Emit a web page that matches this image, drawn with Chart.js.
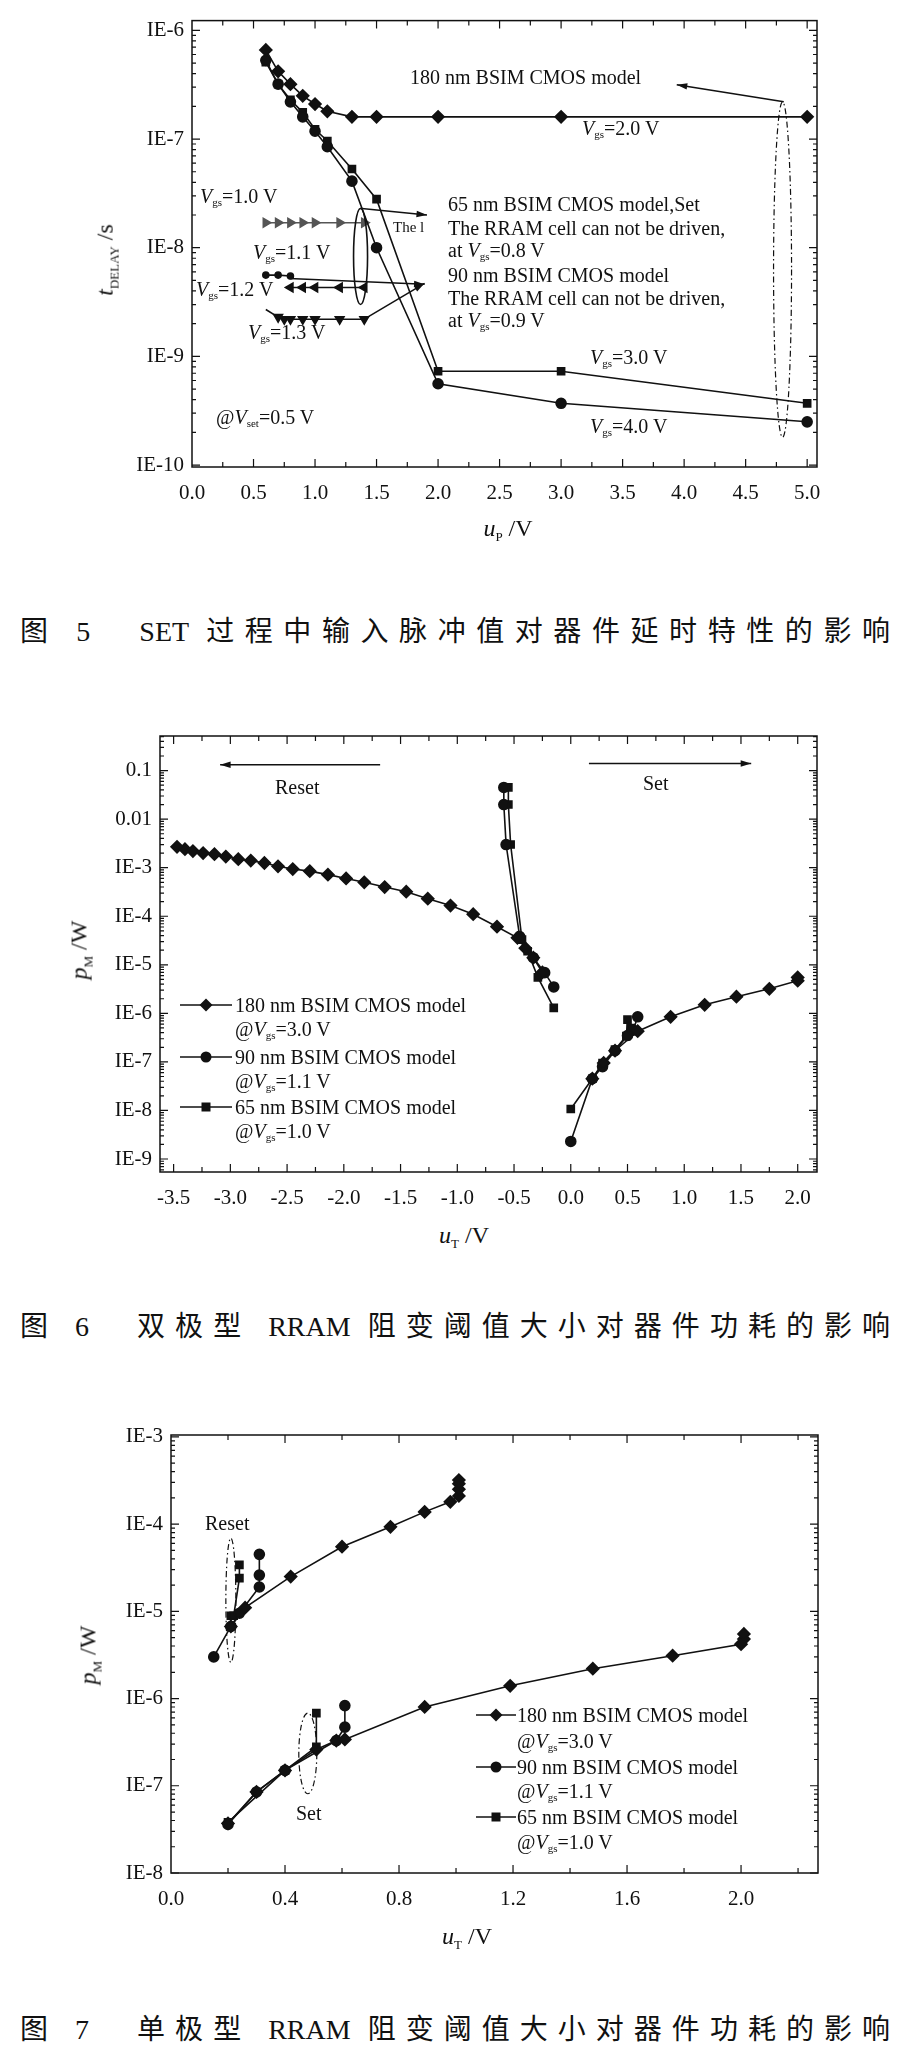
<!DOCTYPE html>
<html>
<head>
<meta charset="utf-8">
<script src="https://cdn.jsdelivr.net/npm/chart.js@4/dist/chart.umd.min.js"></script>
<style>
  body { margin: 0; background: #fff; width: 905px; height: 2062px; position: relative; overflow: hidden;
         font-family: "Liberation Serif", "DejaVu Serif", serif; color: #111; }
  canvas { position: absolute; left: 0; }
  .t { position: absolute; white-space: nowrap; font-size: 20px; line-height: 1; transform: translateY(-50%); }
  .t i { font-style: italic; }
  .t sub { font-size: 11px; vertical-align: -3px; }
  .cap { position: absolute; left: 20px; width: 870px; font-size: 28px; line-height: 1;
         font-family: "Liberation Serif", "Noto Sans CJK SC", serif; text-align: justify; text-align-last: justify;
         transform: translateY(-50%); }
  .ytitle { position: absolute; font-size: 24px; white-space: nowrap; transform: translate(-50%, -50%) rotate(-90deg); }
  .xtitle { position: absolute; font-size: 24px; white-space: nowrap; transform: translate(-50%, -50%); }
  .ytitle sub, .xtitle sub { font-size: 13px; }
</style>
</head>
<body>
<canvas id="fig5" width="905" height="540" style="top:0"></canvas>
<canvas id="fig6" width="905" height="520" style="top:700px"></canvas>
<canvas id="fig7" width="905" height="540" style="top:1400px"></canvas>

<!-- figure 5 texts -->
<div class="ytitle" style="left:107px;top:260px"><i>t</i><sub>DELAY</sub> /s</div>
<div class="xtitle" style="left:508px;top:530px"><i>u</i><sub>P</sub> /V</div>
<div class="t" style="left:410px;top:77px">180 nm BSIM CMOS model</div>
<div class="t" style="left:582px;top:129px"><i>V</i><sub>gs</sub>=2.0 V</div>
<div class="t" style="left:200px;top:197px"><i>V</i><sub>gs</sub>=1.0 V</div>
<div class="t" style="left:253px;top:253px"><i>V</i><sub>gs</sub>=1.1 V</div>
<div class="t" style="left:196px;top:290px"><i>V</i><sub>gs</sub>=1.2 V</div>
<div class="t" style="left:248px;top:333px"><i>V</i><sub>gs</sub>=1.3 V</div>
<div class="t" style="left:393px;top:227px;font-size:15px">The l</div>
<div class="t" style="left:448px;top:204px">65 nm BSIM CMOS model,Set</div>
<div class="t" style="left:448px;top:228px">The RRAM cell can not be driven,</div>
<div class="t" style="left:448px;top:251px">at <i>V</i><sub>gs</sub>=0.8 V</div>
<div class="t" style="left:448px;top:275px">90 nm BSIM CMOS model</div>
<div class="t" style="left:448px;top:298px">The RRAM cell can not be driven,</div>
<div class="t" style="left:448px;top:321px">at <i>V</i><sub>gs</sub>=0.9 V</div>
<div class="t" style="left:590px;top:358px"><i>V</i><sub>gs</sub>=3.0 V</div>
<div class="t" style="left:590px;top:427px"><i>V</i><sub>gs</sub>=4.0 V</div>
<div class="t" style="left:216px;top:418px">@<i>V</i><sub>set</sub>=0.5 V</div>
<div class="cap" style="top:632px">图 5　SET 过程中输入脉冲值对器件延时特性的影响</div>

<!-- figure 6 texts -->
<div class="ytitle" style="left:81px;top:950px"><i>p</i><sub>M</sub> /W</div>
<div class="xtitle" style="left:464px;top:1237px"><i>u</i><sub>T</sub> /V</div>
<div class="t" style="left:275px;top:787px">Reset</div>
<div class="t" style="left:643px;top:783px">Set</div>
<div class="t" style="left:235px;top:1005px">180 nm BSIM CMOS model</div>
<div class="t" style="left:235px;top:1030px">@<i>V</i><sub>gs</sub>=3.0 V</div>
<div class="t" style="left:235px;top:1057px">90 nm BSIM CMOS model</div>
<div class="t" style="left:235px;top:1082px">@<i>V</i><sub>gs</sub>=1.1 V</div>
<div class="t" style="left:235px;top:1107px">65 nm BSIM CMOS model</div>
<div class="t" style="left:235px;top:1132px">@<i>V</i><sub>gs</sub>=1.0 V</div>
<div class="cap" style="top:1327px">图 6　双极型 RRAM 阻变阈值大小对器件功耗的影响</div>

<!-- figure 7 texts -->
<div class="ytitle" style="left:90px;top:1655px"><i>p</i><sub>M</sub> /W</div>
<div class="xtitle" style="left:467px;top:1938px"><i>u</i><sub>T</sub> /V</div>
<div class="t" style="left:205px;top:1523px">Reset</div>
<div class="t" style="left:296px;top:1813px">Set</div>
<div class="t" style="left:517px;top:1715px">180 nm BSIM CMOS model</div>
<div class="t" style="left:517px;top:1742px">@<i>V</i><sub>gs</sub>=3.0 V</div>
<div class="t" style="left:517px;top:1767px">90 nm BSIM CMOS model</div>
<div class="t" style="left:517px;top:1792px">@<i>V</i><sub>gs</sub>=1.1 V</div>
<div class="t" style="left:517px;top:1817px">65 nm BSIM CMOS model</div>
<div class="t" style="left:517px;top:1843px">@<i>V</i><sub>gs</sub>=1.0 V</div>
<div class="cap" style="top:2030px">图 7　单极型 RRAM 阻变阈值大小对器件功耗的影响</div>

<script>
// ---------- Fig 5 data: delay vs pulse ----------
const f5X = [0.6, 0.7, 0.8, 0.9, 1.0, 1.1, 1.3, 1.5, 2.0, 3.0, 5.0];
const f5Nm180 = [6.6e-7, 4.2e-7, 3.2e-7, 2.5e-7, 2.1e-7, 1.8e-7, 1.6e-7, 1.6e-7, 1.6e-7, 1.6e-7, 1.6e-7];
const f5Nm65 = [5.1e-7, 3.2e-7, 2.3e-7, 1.76e-7, 1.23e-7, 9.6e-8, 5.3e-8, 2.8e-8, 7.3e-10, 7.3e-10, 3.7e-10];
const f5Nm90 = [5.3e-7, 3.2e-7, 2.2e-7, 1.6e-7, 1.18e-7, 8.5e-8, 4.1e-8, 1.0e-8, 5.6e-10, 3.7e-10, 2.5e-10];
const f5Vgs10X = [0.6, 0.7, 0.8, 0.9, 1.0, 1.2, 1.4];
const f5Vgs10 = [1.7e-8, 1.7e-8, 1.7e-8, 1.7e-8, 1.7e-8, 1.7e-8, 1.7e-8];
const f5Vgs11X = [0.6, 0.7, 0.8];
const f5Vgs11 = [5.6e-9, 5.6e-9, 5.5e-9];
const f5Vgs12X = [0.8, 0.9, 1.0, 1.2, 1.4];
const f5Vgs12 = [4.3e-9, 4.3e-9, 4.3e-9, 4.3e-9, 4.3e-9];
const f5Vgs13X = [0.6, 0.7, 0.75, 0.8, 0.9, 1.0, 1.2, 1.4];
const f5Vgs13 = [2.7e-9, 2.3e-9, 2.2e-9, 2.2e-9, 2.2e-9, 2.2e-9, 2.2e-9, 2.2e-9];
const f5YTicks = [1e-10, 1e-9, 1e-8, 1e-7, 1e-6];
const f5YLabels = ['IE-10', 'IE-9', 'IE-8', 'IE-7', 'IE-6'];
const f5XTicks = [0, 0.5, 1, 1.5, 2, 2.5, 3, 3.5, 4, 4.5, 5];

// ---------- Fig 6 data: bipolar RRAM power ----------
const f6ResetX180 = [-3.47, -3.40, -3.33, -3.24, -3.14, -3.04, -2.93, -2.82, -2.70, -2.58, -2.45, -2.30, -2.14,
  -1.98, -1.82, -1.64, -1.45, -1.26, -1.06, -0.86, -0.65, -0.47, -0.40, -0.33, -0.25];
const f6Reset180 = [2.7e-3, 2.4e-3, 2.2e-3, 2.0e-3, 1.9e-3, 1.7e-3, 1.5e-3, 1.4e-3, 1.25e-3, 1.07e-3, 9.4e-4, 8.5e-4,
  7.2e-4, 6.0e-4, 5.0e-4, 4.0e-4, 3.2e-4, 2.3e-4, 1.66e-4, 1.1e-4, 6.1e-5, 3.6e-5, 2.2e-5, 1.4e-5, 7e-6];
const f6ResetX90 = [-0.59, -0.59, -0.57, -0.45, -0.33, -0.23, -0.15];
const f6Reset90 = [0.045, 0.02, 0.003, 3.8e-5, 1.4e-5, 6.9e-6, 3.5e-6];
const f6ResetX65 = [-0.55, -0.55, -0.53, -0.43, -0.38, -0.29, -0.15];
const f6Reset65 = [0.045, 0.02, 0.003, 3.3e-5, 1.9e-5, 5.5e-6, 1.3e-6];
const f6SetX180 = [0.19, 0.29, 0.39, 0.59, 0.88, 1.18, 1.46, 1.75, 2.0, 2.0];
const f6Set180 = [4.5e-8, 9.5e-8, 1.7e-7, 4.3e-7, 8.5e-7, 1.5e-6, 2.2e-6, 3.2e-6, 4.7e-6, 5.5e-6];
const f6SetX90 = [0.0, 0.19, 0.28, 0.39, 0.5, 0.55, 0.59];
const f6Set90 = [2.3e-9, 4.5e-8, 8e-8, 1.7e-7, 3.5e-7, 4.5e-7, 8.5e-7];
const f6SetX65 = [0.0, 0.19, 0.28, 0.39, 0.49, 0.5, 0.53];
const f6Set65 = [1.07e-8, 4.5e-8, 9.5e-8, 1.8e-7, 3.4e-7, 7.4e-7, 5e-7];
const f6YTicks = [1e-9, 1e-8, 1e-7, 1e-6, 1e-5, 1e-4, 1e-3, 1e-2, 1e-1];
const f6YLabels = ['IE-9', 'IE-8', 'IE-7', 'IE-6', 'IE-5', 'IE-4', 'IE-3', '0.01', '0.1'];
const f6XTicks = [-3.5, -3, -2.5, -2, -1.5, -1, -0.5, 0, 0.5, 1, 1.5, 2];

// ---------- Fig 7 data: unipolar RRAM power ----------
const f7ResetX180 = [0.21, 0.26, 0.42, 0.6, 0.77, 0.89, 0.98, 1.01, 1.01, 1.01, 1.01];
const f7Reset180 = [6.7e-6, 1.1e-5, 2.5e-5, 5.5e-5, 9.3e-5, 1.38e-4, 1.8e-4, 2.1e-4, 2.5e-4, 2.9e-4, 3.2e-4];
const f7ResetX90 = [0.15, 0.21, 0.24, 0.31, 0.31, 0.31];
const f7Reset90 = [3e-6, 6.7e-6, 9.5e-6, 1.9e-5, 2.6e-5, 4.5e-5];
const f7ResetX65 = [0.21, 0.22, 0.24, 0.24];
const f7Reset65 = [8.9e-6, 8.9e-6, 2.4e-5, 3.4e-5];
const f7SetX180 = [0.2, 0.3, 0.4, 0.51, 0.58, 0.61, 0.89, 1.19, 1.48, 1.76, 2.0, 2.01, 2.01];
const f7Set180 = [3.7e-8, 8.5e-8, 1.5e-7, 2.6e-7, 3.3e-7, 3.4e-7, 8e-7, 1.4e-6, 2.2e-6, 3.1e-6, 4.2e-6, 4.8e-6, 5.5e-6];
const f7SetX90 = [0.2, 0.3, 0.4, 0.58, 0.61, 0.61];
const f7Set90 = [3.6e-8, 8.5e-8, 1.5e-7, 3.3e-7, 4.7e-7, 8.3e-7];
const f7SetX65 = [0.2, 0.4, 0.51, 0.51];
const f7Set65 = [3.8e-8, 1.5e-7, 2.8e-7, 6.8e-7];
const f7YTicks = [1e-8, 1e-7, 1e-6, 1e-5, 1e-4, 1e-3];
const f7YLabels = ['IE-8', 'IE-7', 'IE-6', 'IE-5', 'IE-4', 'IE-3'];
const f7XTicks = [0, 0.4, 0.8, 1.2, 1.6, 2.0];

const pts = (xs, ys) => xs.map((x, i) => ({ x: x, y: ys[i] }));
const ink = '#111';

function series(xs, ys, style, extra) {
    return Object.assign({
        data: pts(xs, ys),
        showLine: true,
        borderColor: ink,
        backgroundColor: ink,
        borderWidth: 1.6,
        pointStyle: style,
        pointRadius: style === 'rectRot' ? 6 : 5,
        pointBorderColor: ink,
        pointBackgroundColor: ink
    }, extra || {});
}

// frame with inward ticks on all four sides, plus annotations
const framePlugin = {
    id: 'frame',
    afterDraw(chart, args, opts) {
        const c = chart.ctx, a = chart.chartArea;
        const xs = chart.scales.x, ys = chart.scales.y;
        c.save();
        c.strokeStyle = ink;
        c.lineWidth = 1.5;
        c.strokeRect(a.left, a.top, a.right - a.left, a.bottom - a.top);
        c.lineWidth = 1.2;
        // x ticks
        for (let v = opts.xStart; v <= xs.max + 1e-9; v += opts.xMinor) {
            const p = xs.getPixelForValue(v);
            if (p < a.left + 1 || p > a.right - 1) continue;
            const major = Math.abs(v / opts.xMajor - Math.round(v / opts.xMajor)) < 1e-6;
            const len = major ? 8 : 5;
            c.beginPath();
            c.moveTo(p, a.bottom); c.lineTo(p, a.bottom - len);
            c.moveTo(p, a.top); c.lineTo(p, a.top + len);
            c.stroke();
        }
        // y log ticks
        const lo = Math.floor(Math.log10(ys.min)), hi = Math.ceil(Math.log10(ys.max));
        for (let e = lo; e <= hi; e++) {
            for (let m = 1; m < 10; m++) {
                const v = m * Math.pow(10, e);
                if (v < ys.min || v > ys.max) continue;
                const p = ys.getPixelForValue(v);
                const len = m === 1 ? 8 : 4;
                c.beginPath();
                c.moveTo(a.left, p); c.lineTo(a.left + len, p);
                c.moveTo(a.right, p); c.lineTo(a.right - len, p);
                c.stroke();
            }
        }
        // annotations
        (opts.arrows || []).forEach(ar => {
            const x1 = xs.getPixelForValue(ar[0]), y1 = ys.getPixelForValue(ar[1]);
            const x2 = xs.getPixelForValue(ar[2]), y2 = ys.getPixelForValue(ar[3]);
            c.lineWidth = 1.5;
            c.beginPath(); c.moveTo(x1, y1); c.lineTo(x2, y2); c.stroke();
            const ang = Math.atan2(y2 - y1, x2 - x1);
            c.beginPath();
            c.moveTo(x2, y2);
            c.lineTo(x2 - 11 * Math.cos(ang - 0.3), y2 - 11 * Math.sin(ang - 0.3));
            c.lineTo(x2 - 11 * Math.cos(ang + 0.3), y2 - 11 * Math.sin(ang + 0.3));
            c.closePath(); c.fillStyle = ink; c.fill();
        });
        (opts.ellipses || []).forEach(el => {
            const cx = xs.getPixelForValue(el.x);
            const yt = ys.getPixelForValue(el.top), yb = ys.getPixelForValue(el.bottom);
            c.lineWidth = el.dash ? 1.2 : 1.6;
            c.setLineDash(el.dash ? [6, 3, 1.5, 3] : []);
            c.beginPath();
            c.ellipse(cx, (yt + yb) / 2, el.rx, (yb - yt) / 2, 0, 0, Math.PI * 2);
            c.stroke();
            c.setLineDash([]);
        });
        // legend keys
        (opts.legend || []).forEach(lg => {
            c.lineWidth = 1.6;
            c.beginPath(); c.moveTo(lg.x0, lg.y); c.lineTo(lg.x1, lg.y); c.stroke();
            const mx = (lg.x0 + lg.x1) / 2, r = 5.5;
            c.fillStyle = ink;
            c.beginPath();
            if (lg.style === 'rectRot') {
                c.moveTo(mx, lg.y - r - 1); c.lineTo(mx + r + 1, lg.y); c.lineTo(mx, lg.y + r + 1); c.lineTo(mx - r - 1, lg.y);
            } else if (lg.style === 'circle') {
                c.arc(mx, lg.y, r, 0, Math.PI * 2);
            } else {
                c.rect(mx - r + 1, lg.y - r + 1, 2 * r - 2, 2 * r - 2);
            }
            c.closePath(); c.fill();
        });
        c.restore();
    }
};

function makeChart(id, datasets, cfg) {
    const tickFont = { family: '"Liberation Serif", serif', size: 21 };
    return new Chart(document.getElementById(id), {
        type: 'scatter',
        data: { datasets: datasets },
        plugins: [framePlugin],
        options: {
            responsive: false,
            animation: false,
            layout: { padding: cfg.padding },
            plugins: { legend: { display: false }, tooltip: { enabled: false }, frame: cfg.frame },
            scales: {
                x: {
                    type: 'linear', min: cfg.xMin, max: cfg.xMax,
                    afterBuildTicks: s => { s.ticks = cfg.xTicks.map(v => ({ value: v })); },
                    afterFit: s => { s.height = 45; },
                    ticks: { color: ink, font: tickFont, padding: 14, maxRotation: 0, autoSkip: false,
                             callback: v => v.toFixed(1) },
                    grid: { display: false, drawTicks: false },
                    border: { display: false }
                },
                y: {
                    type: 'logarithmic', min: cfg.yMin, max: cfg.yMax,
                    afterBuildTicks: s => { s.ticks = cfg.yTicks.map(v => ({ value: v })); },
                    afterFit: s => { s.width = cfg.yWidth; },
                    ticks: { color: ink, font: tickFont, padding: 8, autoSkip: false,
                             callback: (v, i) => cfg.yLabels[i] },
                    grid: { display: false, drawTicks: false },
                    border: { display: false }
                }
            }
        }
    });
}

// Fig 5
makeChart('fig5', [
    series(f5X, f5Nm180, 'rectRot'),
    series(f5X, f5Nm90, 'circle'),
    series(f5X, f5Nm65, 'rect'),
    series(f5Vgs10X, f5Vgs10, 'triangle', { rotation: 90, borderColor: '#555', pointBackgroundColor: '#555', pointBorderColor: '#555' }),
    series(f5Vgs11X, f5Vgs11, 'circle', { pointRadius: 3 }),
    series(f5Vgs12X, f5Vgs12, 'triangle', { rotation: -90 }),
    series(f5Vgs13X, f5Vgs13, 'triangle', { rotation: 180, pointRadius: ctx => ctx.dataIndex === 0 ? 0 : 5 })
], {
    padding: { left: 92, right: 88, top: 15, bottom: 28 }, yWidth: 100,
    xMin: 0, xMax: 5.08, yMin: 9.6e-11, yMax: 1.23e-6,
    xTicks: f5XTicks, yTicks: f5YTicks, yLabels: f5YLabels,
    frame: {
        xStart: 0, xMinor: 0.25, xMajor: 0.5,
        arrows: [[4.81, 2.2e-7, 3.94, 3.16e-7], [1.38, 2.3e-8, 1.91, 2.0e-8],
                 [0.79, 5.2e-9, 1.89, 4.6e-9], [1.4, 2.2e-9, 1.89, 4.7e-9]],
        ellipses: [{ x: 1.37, top: 2.3e-8, bottom: 3e-9, rx: 7 },
                   { x: 4.8, top: 2.2e-7, bottom: 1.8e-10, rx: 9, dash: true }]
    }
});

// Fig 6
makeChart('fig6', [
    series(f6ResetX180, f6Reset180, 'rectRot'),
    series(f6ResetX90, f6Reset90, 'circle'),
    series(f6ResetX65, f6Reset65, 'rect'),
    series(f6SetX180, f6Set180, 'rectRot'),
    series(f6SetX90, f6Set90, 'circle'),
    series(f6SetX65, f6Set65, 'rect')
], {
    padding: { left: 70, right: 88, top: 36, bottom: 3 }, yWidth: 90,
    xMin: -3.62, xMax: 2.17, yMin: 5.4e-10, yMax: 0.516,
    xTicks: f6XTicks, yTicks: f6YTicks, yLabels: f6YLabels,
    frame: {
        xStart: -3.5, xMinor: 0.25, xMajor: 0.5,
        arrows: [[-1.68, 0.132, -3.09, 0.132], [0.16, 0.14, 1.59, 0.14]],
        legend: [{ x0: 180, x1: 232, y: 305, style: 'rectRot' },
                 { x0: 180, x1: 232, y: 357, style: 'circle' },
                 { x0: 180, x1: 232, y: 407, style: 'rect' }]
    }
});

// Fig 7
makeChart('fig7', [
    series(f7ResetX180, f7Reset180, 'rectRot'),
    series(f7ResetX90, f7Reset90, 'circle'),
    series(f7ResetX65, f7Reset65, 'rect'),
    series(f7SetX180, f7Set180, 'rectRot'),
    series(f7SetX90, f7Set90, 'circle'),
    series(f7SetX65, f7Set65, 'rect')
], {
    padding: { left: 81, right: 87, top: 35, bottom: 22 }, yWidth: 90,
    xMin: 0, xMax: 2.27, yMin: 1e-8, yMax: 1.05e-3,
    xTicks: f7XTicks, yTicks: f7YTicks, yLabels: f7YLabels,
    frame: {
        xStart: 0, xMinor: 0.2, xMajor: 0.4,
        ellipses: [{ x: 0.21, top: 6.9e-5, bottom: 2.6e-6, rx: 5, dash: true },
                   { x: 0.48, top: 6.8e-7, bottom: 8.1e-8, rx: 9, dash: true }],
        legend: [{ x0: 476, x1: 516, y: 315, style: 'rectRot' },
                 { x0: 476, x1: 516, y: 367, style: 'circle' },
                 { x0: 476, x1: 516, y: 417, style: 'rect' }]
    }
});
</script>
</body>
</html>
